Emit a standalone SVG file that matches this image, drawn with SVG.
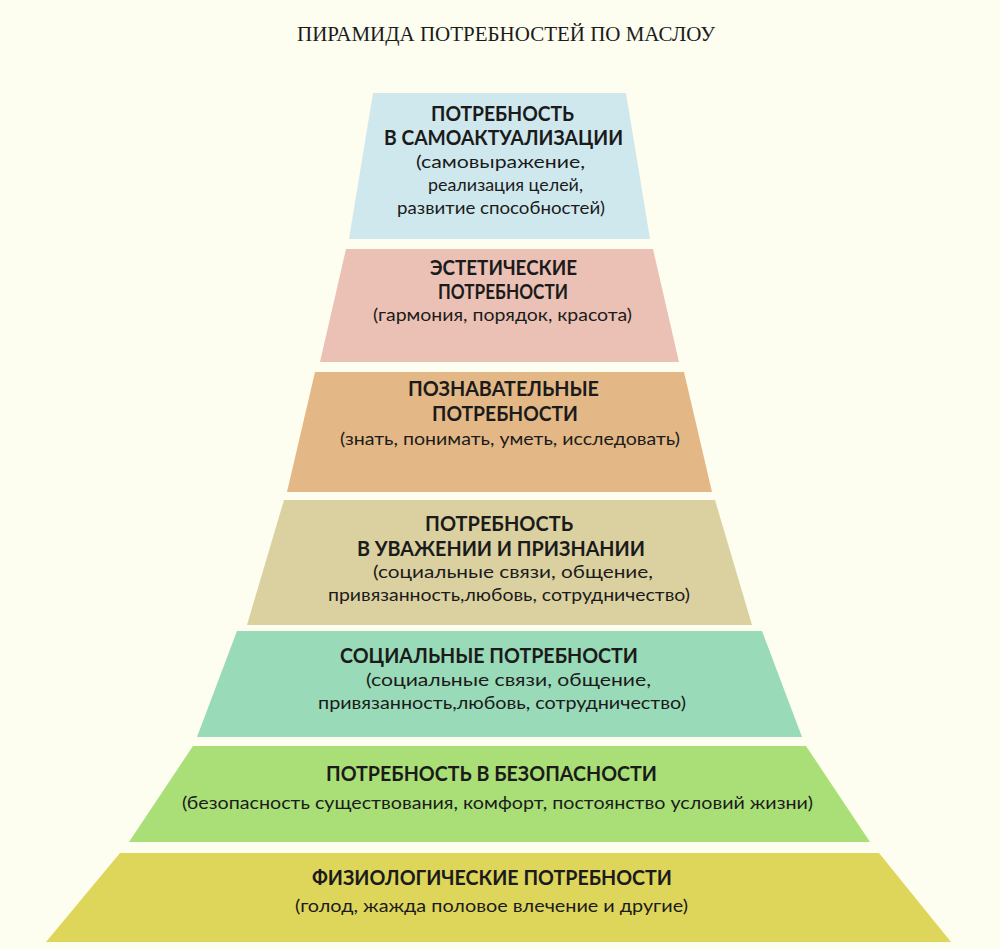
<svg xmlns="http://www.w3.org/2000/svg" width="1000" height="949" viewBox="0 0 1000 949">
<style>
.bg{fill:#fdfdf0}
.h{font-family:Lato,"Open Sans","Liberation Sans",sans-serif;font-weight:700;font-size:20px;fill:#1b1b1b}
.s{font-family:Lato,"Open Sans","Liberation Sans",sans-serif;font-weight:400;font-size:17px;fill:#1b1b1b}
.t{font-family:"Liberation Serif","Times New Roman",serif;font-size:21px;fill:#1b1b1b}
</style>
<rect class="bg" x="0" y="0" width="1000" height="949"/>
<text class="t" x="297" y="41" textLength="418" lengthAdjust="spacingAndGlyphs">ПИРАМИДА ПОТРЕБНОСТЕЙ ПО МАСЛОУ</text>
<g id="level7">
<polygon points="373,93 626,93 650,239 349,239" fill="#cfe8ee"/>
<text class="h" x="431" y="121" textLength="143" lengthAdjust="spacingAndGlyphs">ПОТРЕБНОСТЬ</text>
<text class="h" x="384" y="145" textLength="239" lengthAdjust="spacingAndGlyphs">В САМОАКТУАЛИЗАЦИИ</text>
<text class="s" x="416" y="168" textLength="169" lengthAdjust="spacingAndGlyphs">(самовыражение,</text>
<text class="s" x="428" y="191" textLength="155" lengthAdjust="spacingAndGlyphs">реализация целей,</text>
<text class="s" x="397" y="214" textLength="208" lengthAdjust="spacingAndGlyphs">развитие способностей)</text>
</g>
<g id="level6">
<polygon points="346,249 653,249 679,362 320,362" fill="#ecc1b5"/>
<text class="h" x="430" y="275" textLength="147" lengthAdjust="spacingAndGlyphs">ЭСТЕТИЧЕСКИЕ</text>
<text class="h" x="438" y="299" textLength="130" lengthAdjust="spacingAndGlyphs">ПОТРЕБНОСТИ</text>
<text class="s" x="373" y="321" textLength="259" lengthAdjust="spacingAndGlyphs">(гармония, порядок, красота)</text>
</g>
<g id="level5">
<polygon points="315,372 684,372 712,492 287,492" fill="#e4b886"/>
<text class="h" x="408" y="396" textLength="191" lengthAdjust="spacingAndGlyphs">ПОЗНАВАТЕЛЬНЫЕ</text>
<text class="h" x="432" y="421" textLength="146" lengthAdjust="spacingAndGlyphs">ПОТРЕБНОСТИ</text>
<text class="s" x="340" y="445" textLength="340" lengthAdjust="spacingAndGlyphs">(знать, понимать, уметь, исследовать)</text>
</g>
<g id="level4">
<polygon points="284,500 715,500 752,625 247,625" fill="#dbd1a0"/>
<text class="h" x="425" y="531" textLength="148" lengthAdjust="spacingAndGlyphs">ПОТРЕБНОСТЬ</text>
<text class="h" x="357" y="556" textLength="288" lengthAdjust="spacingAndGlyphs">В УВАЖЕНИИ И ПРИЗНАНИИ</text>
<text class="s" x="373" y="578" textLength="280" lengthAdjust="spacingAndGlyphs">(социальные связи, общение,</text>
<text class="s" x="328" y="601" textLength="362" lengthAdjust="spacingAndGlyphs">привязанность,любовь, сотрудничество)</text>
</g>
<g id="level3">
<polygon points="237,631 762,631 802,737 197,737" fill="#99dab8"/>
<text class="h" x="340" y="663" textLength="298" lengthAdjust="spacingAndGlyphs">СОЦИАЛЬНЫЕ ПОТРЕБНОСТИ</text>
<text class="s" x="366" y="686" textLength="285" lengthAdjust="spacingAndGlyphs">(социальные связи, общение,</text>
<text class="s" x="318" y="709" textLength="368" lengthAdjust="spacingAndGlyphs">привязанность,любовь, сотрудничество)</text>
</g>
<g id="level2">
<polygon points="193,746 806,746 870,842 129,842" fill="#a9df76"/>
<text class="h" x="326" y="781" textLength="331" lengthAdjust="spacingAndGlyphs">ПОТРЕБНОСТЬ В БЕЗОПАСНОСТИ</text>
<text class="s" x="182" y="809" textLength="631" lengthAdjust="spacingAndGlyphs">(безопасность существования, комфорт, постоянство условий жизни)</text>
</g>
<g id="level1">
<polygon points="120,853 879,853 951,942 46,942" fill="#ded55b"/>
<text class="h" x="312" y="885" textLength="360" lengthAdjust="spacingAndGlyphs">ФИЗИОЛОГИЧЕСКИЕ ПОТРЕБНОСТИ</text>
<text class="s" x="295" y="912" textLength="393" lengthAdjust="spacingAndGlyphs">(голод, жажда половое влечение и другие)</text>
</g>
<g id="connectors"/>
</svg>
